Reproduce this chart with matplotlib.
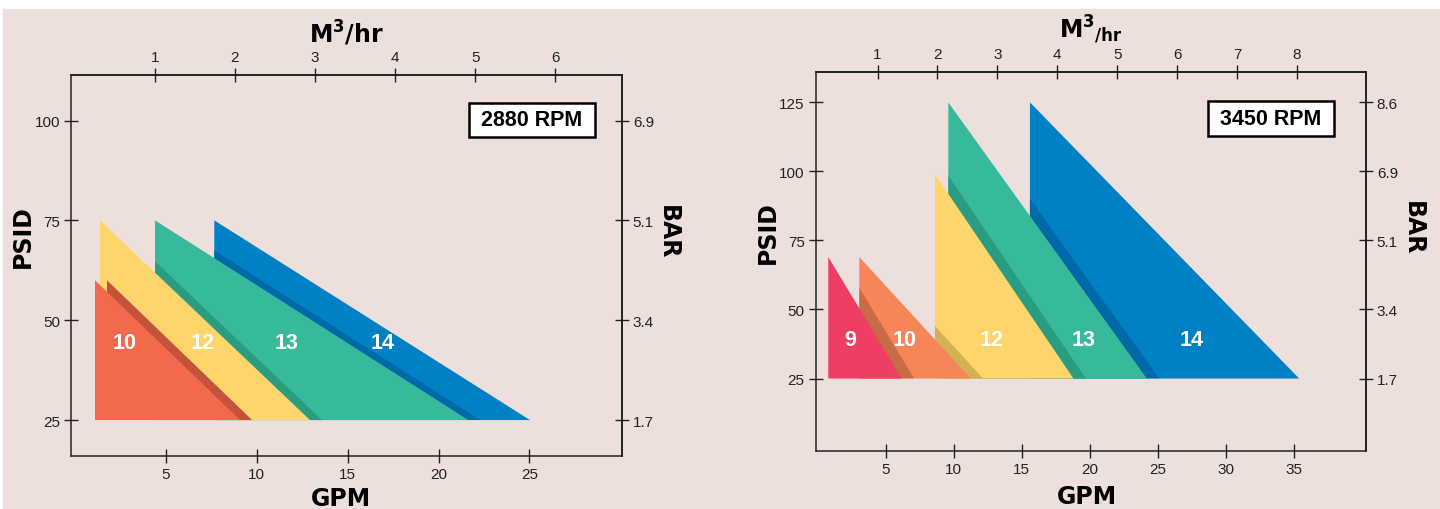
import matplotlib
matplotlib.use("Agg")
import matplotlib.pyplot as plt
from matplotlib.patches import Rectangle

# pump curves (GPM / PSID)
BASE_PSI = 25

left_names = ['10', '12', '13', '14']
left_x0 = [1.11, 1.39, 4.41, 7.67]
left_x1 = [9.09, 12.93, 21.64, 25.03]
left_top = [60, 75, 75, 75]
left_lab_x = [2.76, 7.05, 11.62, 16.95]
left_lab_y = 44.4

right_names = ['9', '10', '12', '13', '14']
right_x0 = [0.78, 3.06, 8.62, 9.60, 15.60]
right_x1 = [6.18, 11.25, 18.80, 24.19, 35.39]
right_top = [69, 69, 99, 125, 125]
right_lab_x = [2.37, 6.41, 12.81, 19.57, 27.5]
right_lab_y = 39.2

left_gpm_ticks = [5, 10, 15, 20, 25]
left_m3_ticks = [1, 2, 3, 4, 5, 6]
left_psi_ticks = [25, 50, 75, 100]
left_bar_labels = ['1.7', '3.4', '5.1', '6.9']

right_gpm_ticks = [5, 10, 15, 20, 25, 30, 35]
right_m3_ticks = [1, 2, 3, 4, 5, 6, 7, 8]
right_psi_ticks = [25, 50, 75, 100, 125]
right_bar_labels = ['1.7', '3.4', '5.1', '6.9', '8.6']

GPM_PER_M3 = 4.403

bg = '#EDE0DC'
red = '#F2694B'
pink = '#EF3E63'
orange = '#F68558'
yellow = '#FED56B'
teal = '#37BA9B'
blue = '#0080C5'
left_cols = [red, yellow, teal, blue]
left_shadow = ['#C5533B', '#2A9C80', '#006AA8']
right_cols = [pink, orange, yellow, teal, blue]
right_shadow = ['#C96B47', '#D2B255', '#2A9C80', '#006AA8']

plt.rcParams['font.family'] = ['Liberation Sans', 'DejaVu Sans']

W, H = 1440, 510
fig = plt.figure(figsize=(W / 100, H / 100), dpi=100)
fig.patch.set_facecolor('white')
fig.add_artist(Rectangle((3 / W, 0), 1, 1 - 10 / H, transform=fig.transFigure,
                         color=bg, zorder=0))


def px(x, y):
    return x / W, 1 - y / H


def panel(box, xlim, ylim, x0, x1, top, cols, shcols, shift, names, lx, ly,
          gpm_ticks, m3_ticks, psi_ticks, bar_labels, rpm, rpm_box):
    l, t, r, b = box
    ax = fig.add_axes([l / W, 1 - b / H, (r - l) / W, (b - t) / H])
    ax.set_facecolor('none')
    ax.set_xlim(xlim)
    ax.set_ylim(ylim)

    n = len(x0)
    for i in range(n - 1, -1, -1):
        z = 2 + 2 * (n - 1 - i)
        tri = ax.fill([x0[i], x0[i], x1[i]], [BASE_PSI, top[i], BASE_PSI],
                      color=cols[i], lw=0, zorder=z)[0]
        if i > 0:
            # darker strip: the smaller pump's shape shifted right, kept inside this one
            j = i - 1
            sh = ax.fill([x0[j] + shift, x0[j] + shift, x1[j] + shift],
                         [BASE_PSI, top[j], BASE_PSI],
                         color=shcols[j], lw=0, zorder=z + 1)[0]
            sh.set_clip_path(tri)
    for name, x in zip(names, lx):
        ax.text(x, ly, name, color='white', fontsize=15.5, fontweight='bold',
                ha='center', va='center', zorder=40)

    ax.set_xticks(gpm_ticks)
    ax.set_yticks(psi_ticks)
    for s in ax.spines.values():
        s.set_color('#222222')
        s.set_linewidth(1.1)
    ax.tick_params(direction='inout', length=9.5, width=1, colors='#222222',
                   labelsize=11, pad=3)

    topax = ax.secondary_xaxis('top', functions=(lambda g: g / GPM_PER_M3,
                                                 lambda m: m * GPM_PER_M3))
    topax.set_xticks(m3_ticks)
    topax.tick_params(direction='inout', length=9.5, width=1, colors='#222222',
                      labelsize=11, pad=3)
    topax.spines['top'].set_linewidth(1.1)

    rax = ax.secondary_yaxis('right')
    rax.set_yticks(psi_ticks, labels=bar_labels)
    rax.tick_params(direction='inout', length=9.5, width=1, colors='#222222',
                    labelsize=11, pad=3)
    rax.spines['right'].set_linewidth(1.1)

    bx0, by0, bx1, by1 = rpm_box
    fx0 = (bx0 - l) / (r - l)
    fx1 = (bx1 - l) / (r - l)
    fy0 = (b - by1) / (b - t)
    fy1 = (b - by0) / (b - t)
    ax.add_patch(Rectangle((fx0, fy0), fx1 - fx0, fy1 - fy0, transform=ax.transAxes,
                           fc='white', ec='black', lw=1.8, zorder=50))
    ax.text((fx0 + fx1) / 2, (fy0 + fy1) / 2, rpm, transform=ax.transAxes,
            ha='center', va='center', fontsize=15.5, fontweight='bold',
            color='black', zorder=51)
    return ax


panel((71, 76, 622, 457), (-0.21, 30.09), (16.0, 111.4),
      left_x0, left_x1, left_top, left_cols, left_shadow, 0.66,
      left_names, left_lab_x, left_lab_y,
      left_gpm_ticks, left_m3_ticks, left_psi_ticks, left_bar_labels,
      '2880 RPM', (469, 104, 595, 137.5))

panel((815.5, 73, 1366, 452.3), (-0.16, 40.3), (-1.35, 136.0),
      right_x0, right_x1, right_top, right_cols, right_shadow, 0.91,
      right_names, right_lab_x, right_lab_y,
      right_gpm_ticks, right_m3_ticks, right_psi_ticks, right_bar_labels,
      '3450 RPM', (1208, 101.7, 1334, 136.7))

title_kw = dict(family='DejaVu Sans', fontweight='bold', fontsize=17,
                color='black', ha='center', va='center')

# left panel axis titles
fig.text(*px(23, 237), 'PSID', rotation=90, **title_kw)
fig.text(*px(668, 232), 'BAR', rotation=-90, **title_kw)
fig.text(*px(341, 499), 'GPM', **title_kw)
fig.text(*px(346, 33), r'M$^{\mathbf{3}}$/hr', **title_kw)

# right panel axis titles
fig.text(*px(768, 233), 'PSID', rotation=90, **title_kw)
fig.text(*px(1413, 228), 'BAR', rotation=-90, **title_kw)
fig.text(*px(1087, 497), 'GPM', **title_kw)
fig.text(*px(1077, 30), r'M$^{\mathbf{3}}$', **title_kw)
fig.text(*px(1108, 35), '/hr', family='DejaVu Sans', fontweight='bold',
         fontsize=12, color='black', ha='center', va='center')

fig.savefig('out.png', dpi=100, facecolor=fig.get_facecolor())
